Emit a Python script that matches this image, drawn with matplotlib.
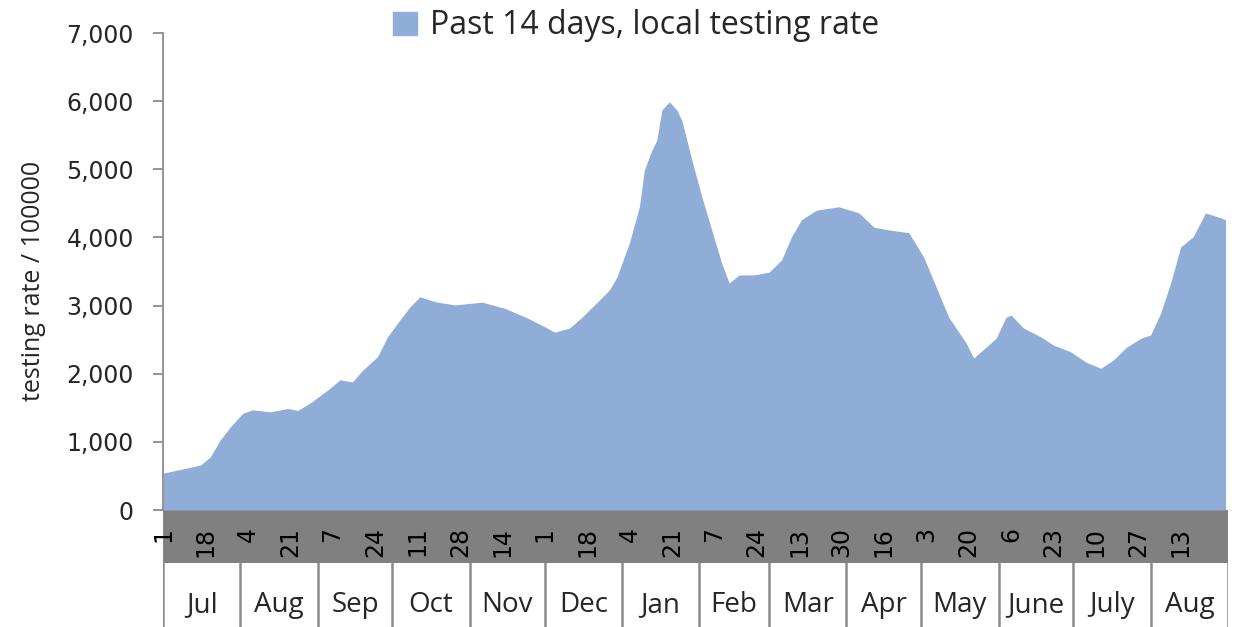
import numpy as np
import pandas as pd
import matplotlib
matplotlib.use("Agg")
import matplotlib.pyplot as plt
from matplotlib.patches import Patch
from matplotlib.ticker import FuncFormatter

# ==============================
# DATA
# ==============================

dates = [
    "2020-07-01", "2020-07-16", "2020-07-20", "2020-07-24", "2020-07-28",
    "2020-08-02", "2020-08-06", "2020-08-13", "2020-08-20", "2020-08-24",
    "2020-08-29", "2020-09-05", "2020-09-10", "2020-09-15", "2020-09-19",
    "2020-09-25", "2020-09-29", "2020-10-04", "2020-10-08", "2020-10-12",
    "2020-10-16", "2020-10-19", "2020-10-26", "2020-11-06", "2020-11-15",
    "2020-11-24", "2020-12-01", "2020-12-05", "2020-12-11", "2020-12-16",
    "2020-12-21", "2020-12-27", "2020-12-30", "2021-01-04", "2021-01-08",
    "2021-01-10", "2021-01-13", "2021-01-15", "2021-01-17", "2021-01-20",
    "2021-01-23", "2021-01-25", "2021-01-29", "2021-02-02", "2021-02-06",
    "2021-02-10", "2021-02-13", "2021-02-17", "2021-02-23", "2021-03-01",
    "2021-03-06", "2021-03-10", "2021-03-14", "2021-03-20", "2021-03-29",
    "2021-04-06", "2021-04-12", "2021-04-18", "2021-04-26", "2021-05-02",
    "2021-05-07", "2021-05-12", "2021-05-19", "2021-05-22", "2021-05-27",
    "2021-05-31", "2021-06-04", "2021-06-06", "2021-06-11", "2021-06-18",
    "2021-06-23", "2021-06-30", "2021-07-06", "2021-07-12", "2021-07-17",
    "2021-07-22", "2021-07-28", "2021-08-01", "2021-08-05", "2021-08-09",
    "2021-08-13", "2021-08-18", "2021-08-23", "2021-08-29", "2021-08-31",
]
testing_rate = [
    540, 660, 780, 1030, 1220,
    1420, 1470, 1440, 1490, 1460,
    1570, 1760, 1910, 1880, 2050,
    2250, 2540, 2790, 2980, 3130,
    3080, 3050, 3010, 3050, 2960,
    2820, 2690, 2610, 2670, 2830,
    3010, 3230, 3420, 3920, 4450,
    4990, 5280, 5430, 5870, 5990,
    5870, 5720, 5140, 4600, 4110,
    3620, 3330, 3450, 3450, 3490,
    3670, 4010, 4260, 4400, 4450,
    4360, 4150, 4110, 4070, 3710,
    3270, 2830, 2450, 2230, 2390,
    2520, 2830, 2860, 2670, 2540,
    2420, 2320, 2170, 2080, 2200,
    2380, 2520, 2570, 2890, 3330,
    3860, 4010, 4360, 4290, 4260,
]

tick_dates = [
    "2020-07-01", "2020-07-18", "2020-08-04", "2020-08-21", "2020-09-07",
    "2020-09-24", "2020-10-11", "2020-10-28", "2020-11-14", "2020-12-01",
    "2020-12-18", "2021-01-04", "2021-01-21", "2021-02-07", "2021-02-24",
    "2021-03-13", "2021-03-30", "2021-04-16", "2021-05-03", "2021-05-20",
    "2021-06-06", "2021-06-23", "2021-07-10", "2021-07-27", "2021-08-13",
]
month_names = ["Jul", "Aug", "Sep", "Oct", "Nov", "Dec", "Jan",
               "Feb", "Mar", "Apr", "May", "June", "July", "Aug"]
month_starts = [
    "2020-07-01", "2020-08-01", "2020-09-01", "2020-10-01", "2020-11-01",
    "2020-12-01", "2021-01-01", "2021-02-01", "2021-03-01", "2021-04-01",
    "2021-05-01", "2021-06-01", "2021-07-01", "2021-08-01", "2021-09-01",
]

# ==============================
# STYLE
# ==============================

AREA = "#8FADD6"
BAND = "#808080"
LINE = "#8C8C8C"
TEXT = "#262626"
FONT = "Open Sans"
NUM_FONT = "DejaVu Sans"

W, H = 1240, 627
X0, X1 = 163, 1228      # plot left / right (px)
Y_TOP, Y_ZERO = 33, 510  # 7000 / 0 (px)
Y_BAND = 563             # bottom of grey band (px)

plt.rcParams["font.family"] = [FONT, "DejaVu Sans"]

dates = pd.to_datetime(dates)
tick_dates = pd.to_datetime(tick_dates)
month_starts = pd.to_datetime(month_starts)
xlim = (month_starts[0], month_starts[-1])

fig = plt.figure(figsize=(W / 100, H / 100), dpi=100)

# grey band behind the day labels
band = fig.add_axes([X0 / W, 1 - Y_BAND / H, (X1 - X0) / W, (Y_BAND - Y_ZERO) / H])
band.set_facecolor(BAND)
band.set_xlim(xlim)
band.set_xticks([])
band.set_yticks([])
for s in band.spines.values():
    s.set_visible(False)
band.spines["left"].set_visible(True)
band.spines["left"].set_color(LINE)
band.set_zorder(0)

# month boxes
months = fig.add_axes([X0 / W, 0, (X1 - X0) / W, (H - Y_BAND) / H])
months.set_xlim(xlim)
months.set_ylim(0, 1)
months.set_xticks([])
months.set_yticks([])
for s in months.spines.values():
    s.set_visible(False)
for d in month_starts:
    months.axvline(d, color=LINE, lw=1.8)
for i, name in enumerate(month_names):
    mid = month_starts[i] + (month_starts[i + 1] - month_starts[i]) / 2
    months.text(mid, 0.34, name, ha="center", va="center",
                fontsize=20, color=TEXT)

# main area chart
ax = fig.add_axes([X0 / W, 1 - Y_ZERO / H, (X1 - X0) / W, (Y_ZERO - Y_TOP) / H])
ax.set_zorder(1)
ax.fill_between(dates, testing_rate, color=AREA, lw=0,
                label="Past 14 days, local testing rate")
ax.set_xlim(xlim)
ax.set_ylim(0, 7000)
ax.set_yticks(np.arange(0, 7001, 1000))
ax.yaxis.set_major_formatter(FuncFormatter(lambda v, p: f"{int(v):,}"))
ax.tick_params(axis="y", length=7, width=1.3, color=LINE, pad=14,
               labelsize=17, labelcolor=TEXT)
for lbl in ax.get_yticklabels():
    lbl.set_family(NUM_FONT)
ax.set_xticks(tick_dates)
ax.set_xticklabels([str(d.day) for d in tick_dates], rotation=90,
                   fontsize=17, color="black", family=NUM_FONT)
ax.tick_params(axis="x", length=0, pad=12)
for lbl in ax.get_xticklabels():
    lbl.set_va("top")
for side in ["top", "right", "bottom"]:
    ax.spines[side].set_visible(False)
ax.spines["left"].set_color(LINE)
ax.spines["left"].set_linewidth(1.3)

ax.set_ylabel("testing rate / 100000", fontsize=18, color=TEXT)
ax.yaxis.set_label_coords(-(X0 - 46) / (X1 - X0), 0.48)

fig.legend(handles=[Patch(color=AREA, label="Past 14 days, local testing rate")],
           loc="center", bbox_to_anchor=(0.513, 1 - 26 / H), frameon=False,
           fontsize=23, handlelength=0.75, handleheight=0.7,
           handletextpad=0.4, labelcolor=TEXT)

fig.savefig("out.png", dpi=100)
